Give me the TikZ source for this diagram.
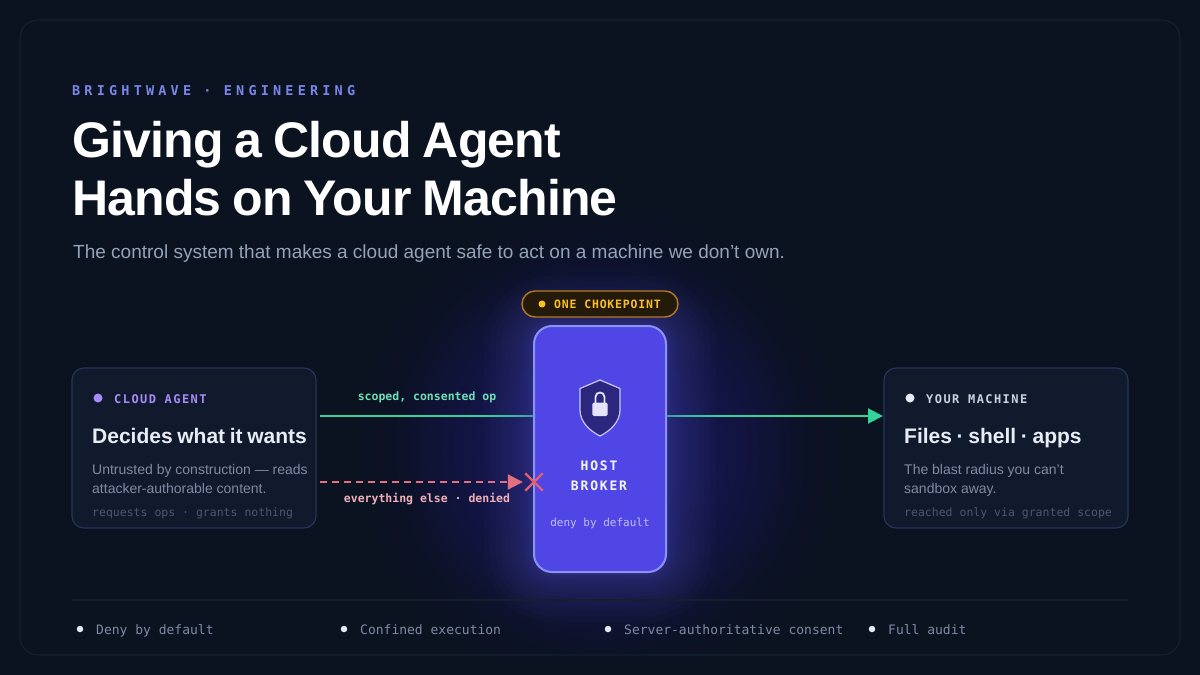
\documentclass[tikz,border=0pt]{standalone}
\usepackage{fontspec}
\setmainfont{Liberation Sans}
\newfontfamily\monofont{DejaVu Sans Mono}
\newfontfamily\kickerfont[LetterSpace=31]{DejaVu Sans Mono}
\newfontfamily\tagfont[LetterSpace=12]{DejaVu Sans Mono}
\newfontfamily\pillfont[LetterSpace=7]{DejaVu Sans Mono}
\newfontfamily\brokerfont[LetterSpace=14]{DejaVu Sans Mono}
\newfontfamily\titlefont[LetterSpace=-1.7, WordSpace=0.85]{Liberation Sans}
\newfontfamily\headfont[WordSpace=0.8]{Liberation Sans}
\usetikzlibrary{arrows.meta, shapes.misc}

\definecolor{pagebg}{HTML}{0B1220}
\definecolor{framecol}{HTML}{151F2E}
\definecolor{cardfill}{HTML}{111A2C}
\definecolor{cardline}{HTML}{27345A}
\definecolor{brokerfill}{HTML}{4F46E5}
\definecolor{brokerline}{HTML}{8B93F5}
\definecolor{haloblue}{HTML}{5A5AC8}
\definecolor{okgreen}{HTML}{34D399}
\definecolor{denyred}{HTML}{E2707F}
\definecolor{amber}{HTML}{FBBF24}
\definecolor{pillfill}{HTML}{231A0A}
\definecolor{pillline}{HTML}{B7791F}
\definecolor{violet}{HTML}{A78BFA}
\definecolor{snow}{HTML}{E8EDF5}
\definecolor{kickercol}{HTML}{7C86EA}
\definecolor{subcol}{HTML}{94A3B8}
\definecolor{desccol}{HTML}{7F8BA3}
\definecolor{tailcol}{HTML}{4B5870}
\definecolor{glowa}{HTML}{191A5E}
\definecolor{glowb}{HTML}{15164E}
\definecolor{glowc}{HTML}{10133A}
\definecolor{glowd}{HTML}{0C1226}

\pgfdeclareradialshading{brokerglow}{\pgfpoint{0bp}{0bp}}{
    color(0bp)=(glowa);
    color(10bp)=(glowb);
    color(16bp)=(glowc);
    color(21bp)=(glowd);
    color(25bp)=(pagebg);
    color(50bp)=(pagebg)}

\tikzset{
    txt/.style={inner sep=0, anchor=base west, align=left},
    tagtxt/.style={txt, font=\tagfont\bfseries\fontsize{12}{14}\selectfont},
    headtxt/.style={txt, text=snow, font=\headfont\bfseries\fontsize{21}{25}\selectfont},
    desctxt/.style={txt, text=desccol, font=\fontsize{14}{19.5}\selectfont},
    tailtxt/.style={txt, text=tailcol, font=\monofont\fontsize{11.5}{14}\selectfont},
    titletxt/.style={txt, text=white, font=\titlefont\bfseries\fontsize{50}{58}\selectfont},
    midtxt/.style={anchor=base, inner sep=0},
    cardbox/.style={draw=cardline, fill=cardfill, line width=1.2pt, rounded corners=12pt,
        minimum width=244pt, minimum height=160pt},
    dotmark/.style={circle, inner sep=0, minimum size=#1},
    okline/.style={okgreen, line width=2pt},
    denyline/.style={denyred, line width=2pt, dash pattern=on 7pt off 5pt}
}

\begin{document}
\begin{tikzpicture}[x=1pt, y=-1pt]
    \useasboundingbox[fill=pagebg] (0,0) rectangle (1200,675);

    \shade[shading=brokerglow] (600,449) circle (245);
    \fill[pagebg] (300,655.6) rectangle (900,675);
    \draw[framecol, line width=1.2pt, rounded corners=18pt] (20,20) rectangle (1180,655);
    \coordinate (agentout) at (320,416);
    \coordinate (machinein) at (883,416);
    \draw[okline, -{Triangle[length=15pt, width=15pt]}] (agentout) -- (machinein);
    \foreach \r in {1,2,3,4,5,6,8,10,12,14,17,20,24,28,33,38,44,50}
        \fill[rounded corners=18pt+\r, haloblue, opacity=0.03] (534-\r,326-\r) rectangle (666+\r,572+\r);

    \node[txt, text=kickercol] (kicker) at (72,95) {\kickerfont\bfseries\fontsize{13.5}{16}\selectfont BRIGHTWAVE · ENGINEERING};
    \node[titletxt] (titleone) at (72,157) {Giving a Cloud Agent};
    \node[titletxt] (titletwo) at (72,215) {Hands on Your Machine};
    \node[txt, text=subcol] (subtitle) at (73,258) {\fontsize{19}{24}\selectfont The control system that makes a cloud agent safe to act on a machine we don’t own.};

    \node[cardbox] (agent) at (194,448) {};
    \node[dotmark=9pt, fill=violet] (agentdot) at (98,398) {};
    \node[tagtxt, text=violet] (agenttag) at (114,403) {CLOUD AGENT};
    \node[headtxt] (agenthead) at (92,443) {Decides what it wants};
    \node[desctxt] (agentdesc) at (92,493.5) {Untrusted by construction — reads\\attacker-authorable content.};
    \node[tailtxt] (agenttail) at (92,516) {requests ops · grants nothing};

    \node[cardbox] (machine) at (1006,448) {};
    \node[dotmark=9pt, fill=snow] (machinedot) at (910,398) {};
    \node[tagtxt, text=snow!85!cardline] (machinetag) at (926,403) {YOUR MACHINE};
    \node[headtxt] (machinehead) at (904,443) {Files · shell · apps};
    \node[desctxt] (machinedesc) at (904,493.5) {The blast radius you can’t\\sandbox away.};
    \node[tailtxt] (machinetail) at (904,516) {reached only via granted scope};

    \node[draw=brokerline, fill=brokerfill, line width=2pt, rounded corners=18pt,
        minimum width=132pt, minimum height=246pt] (broker) at (600,449) {};
    \node[draw=pillline, fill=pillfill, line width=1.4pt, rounded corners=13pt,
        minimum width=156pt, minimum height=26pt] (pill) at (600,304) {};
    \node[dotmark=7pt, fill=amber] (pilldot) at (542,304) {};
    \node[txt, text=amber] (pilltext) at (554,308) {\pillfont\bfseries\fontsize{11.5}{14}\selectfont ONE CHOKEPOINT};

    \draw[fill=brokerfill!55!black, draw=white!70!brokerfill, line width=1.2pt] (600,380) -- (620,388.5) -- (620,410)
        .. controls (620,422) and (610,431) .. (600,436) .. controls (590,431) and (580,422) .. (580,410) -- (580,388.5) -- cycle;
    \draw[white!85!brokerfill, line width=1.8pt] (595.5,404) -- (595.5,397) .. controls (595.5,391) and (604.5,391) .. (604.5,397) -- (604.5,404);
    \fill[white!85!brokerfill, rounded corners=1.5pt] (592.3,402.5) rectangle (607.7,416);

    \node[midtxt, text=white!95!brokerfill] (brokerone) at (599,470) {\brokerfont\bfseries\fontsize{13}{16}\selectfont HOST};
    \node[midtxt, text=white!95!brokerfill] (brokertwo) at (599,490) {\brokerfont\bfseries\fontsize{13}{16}\selectfont BROKER};
    \node[midtxt, text=white!65!brokerfill] (brokersub) at (600,526) {\monofont\fontsize{11}{14}\selectfont deny by default};

    \node[midtxt, text=okgreen!70!white] (oklabel) at (427,400) {\monofont\bfseries\fontsize{11.5}{14}\selectfont scoped, consented op};
    \coordinate (denyout) at (320,482);
    \node[cross out, draw=denyred!85!red, line width=2.4pt, minimum size=15pt, inner sep=0] (denyx) at (534,482) {};
    \draw[denyline, -{Triangle[length=15pt, width=15pt]}] (denyout) -- ([xshift=-2.5pt]denyx.west);
    \node[midtxt, text=denyred!55!white] (denylabel) at (427,502) {\monofont\bfseries\fontsize{11.5}{14}\selectfont everything else · denied};

    \coordinate (rulestart) at (72,600);
    \coordinate (ruleend) at (1128,600);
    \draw[framecol, line width=1.2pt] (rulestart) -- (ruleend);
    \foreach \x/\lab/\nm in {80/Deny by default/deny, 344/Confined execution/confined, 608/Server-authoritative consent/consent, 872/Full audit/audit} {
        \node[dotmark=6.5pt, fill=snow] (\nm dot) at (\x,629) {};
        \node[txt, text=desccol] (\nm) at (\x+16,634) {\monofont\fontsize{13}{16}\selectfont \lab};
    }
\end{tikzpicture}
\end{document}
